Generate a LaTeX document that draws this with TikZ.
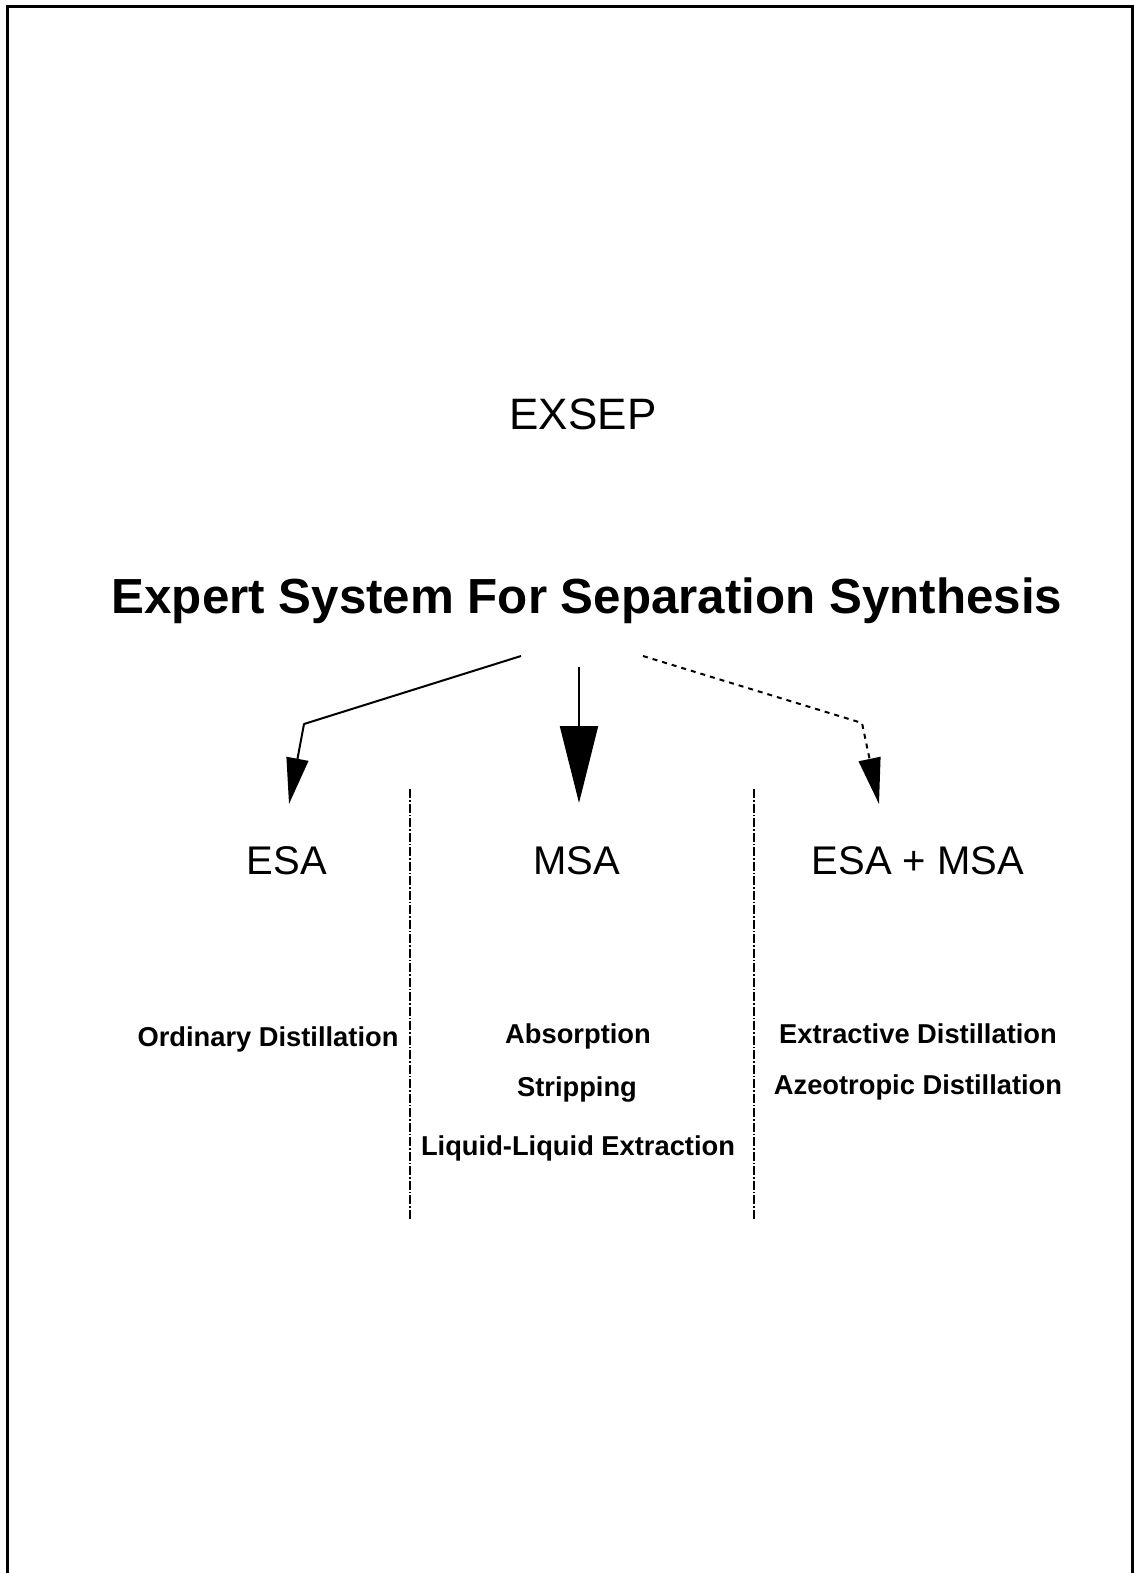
\documentclass[tikz,border=0pt]{standalone}
\usepackage{fontspec}
\setmainfont{Liberation Sans}
\usetikzlibrary{arrows.meta}
\begin{document}
\begin{tikzpicture}[x=1pt,y=-1pt,
  lbl/.style={inner sep=0pt, anchor=center},
  big/.style={lbl, font=\fontsize{44}{50}\selectfont},
  head/.style={lbl, font=\fontsize{40}{46}\selectfont},
  sub/.style={lbl, font=\fontsize{27.3}{32}\selectfont\bfseries},
  conn/.style={line width=2pt, line join=round},
  sidetip/.style={-{Triangle[length=46pt,width=22pt]}},
  midtip/.style={-{Triangle[length=77pt,width=38pt]}},
  divider/.style={line width=1.3pt, dash pattern=on 9pt off 2pt on 1.5pt off 2pt}]
\useasboundingbox (0,0) rectangle (1134,1573);
\fill[white] (0,0) rectangle (1134,1573);
\draw[line width=3pt] (7.5,6.5) rectangle (1132.5,1575);

\node[big] (exsep) at (583,414) {EXSEP};
\node[lbl, font=\fontsize{49.3}{55}\selectfont\bfseries] (title) at (587,601) {Expert System For Separation Synthesis};

\node[head] (esa) at (287,861) {ESA};
\node[head] (msa) at (577,861) {MSA};
\node[head] (both) at (918,861) {ESA + MSA};

\node[sub] (od) at (268,1039) {Ordinary Distillation};
\node[sub] (abs) at (578,1036) {Absorption};
\node[sub] (str) at (577,1089) {Stripping};
\node[sub] (lle) at (578,1148) {Liquid-Liquid Extraction};
\node[sub] (ed) at (918,1034) {Extractive Distillation};
\node[sub] (ad) at (918,1087) {Azeotropic Distillation};

\coordinate (s1) at (521,656);
\coordinate (b1) at (304,724);
\coordinate (t1) at (289,804);
\coordinate (s2) at (579,667);
\coordinate (t2) at (579,803);
\coordinate (s3) at (643,656);
\coordinate (b3) at (862,723);
\coordinate (t3) at (879,804);

\draw[conn, sidetip] (s1) -- (b1) -- (t1);
\draw[conn, midtip] (s2) -- (t2);
\draw[conn, sidetip, dash pattern=on 5pt off 5pt] (s3) -- (b3) -- (t3);

\coordinate (d1a) at (410,789);
\coordinate (d1b) at (410,1220);
\coordinate (d2a) at (754,789);
\coordinate (d2b) at (754,1220);
\draw[divider] (d1a) -- (d1b);
\draw[divider] (d2a) -- (d2b);
\end{tikzpicture}
\end{document}
